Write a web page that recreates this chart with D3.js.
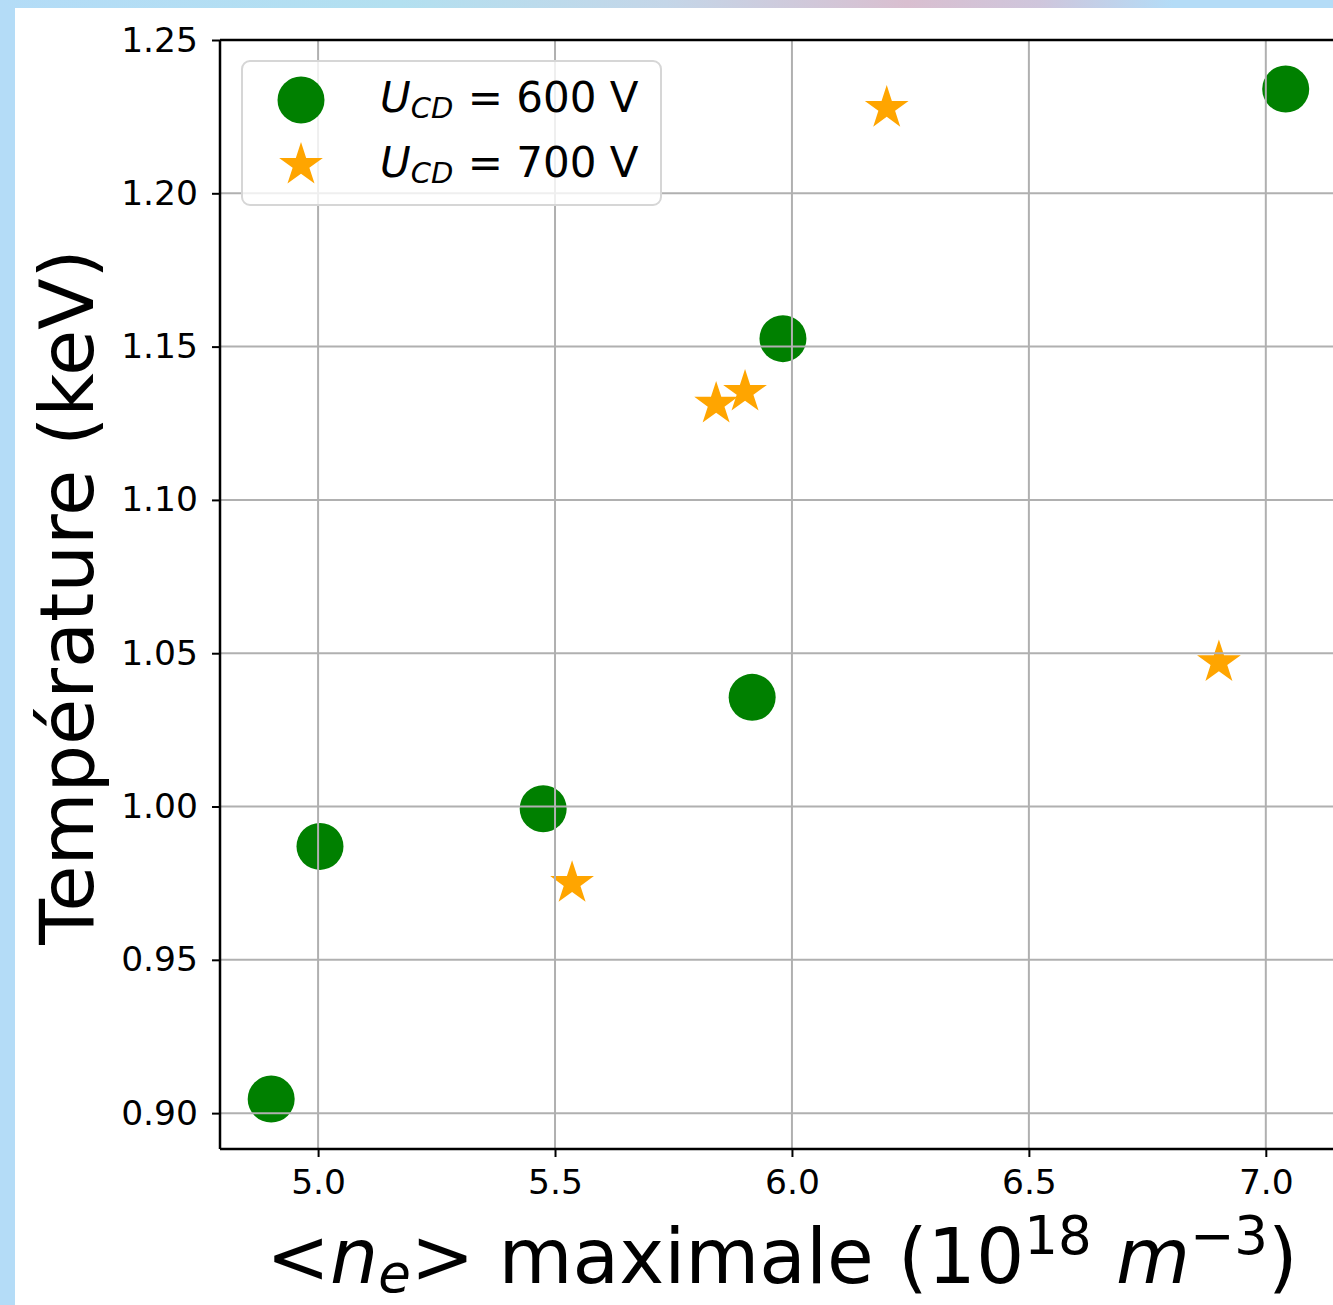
<!DOCTYPE html>
<html>
<head>
<meta charset="utf-8">
<script src="https://cdn.jsdelivr.net/npm/d3@7"></script>
<style>
  html, body { margin: 0; padding: 0; background: #b4dcf7; }
  svg { display: block; }
  text { font-family: "DejaVu Sans", sans-serif; fill: #000; }
</style>
</head>
<body>
<svg id="svg" width="1333" height="1305"></svg>
<script>
// values
let xTicks = [5.0, 5.5, 6.0, 6.5, 7.0];
let yTicks = [0.90, 0.95, 1.00, 1.05, 1.10, 1.15, 1.20, 1.25];

let ne600 = [4.901, 5.004, 5.475, 5.916, 5.981, 7.042];
let temp600 = [0.9046, 0.987, 0.9993, 1.0356, 1.1526, 1.234];

let ne700 = [5.536, 5.840, 5.901, 6.200, 6.901];
let temp700 = [0.975, 1.1313, 1.1352, 1.2278, 1.047];

let seriesLabels = ["600 V", "700 V"];

let svg = d3.select("svg");

// page background: blue frame with a soft gradient strip on top
let defs = svg.append("defs");
let grad = defs.append("linearGradient").attr("id", "topgrad");
[[0, "#b4dcf7"], [0.3, "#b3e0f0"], [0.5, "#c4d6e8"], [0.68, "#d9bfd0"], [0.78, "#cfc6dc"], [0.88, "#b4dcf7"], [1, "#b4dcf7"]]
  .forEach(s => grad.append("stop").attr("offset", s[0]).attr("stop-color", s[1]));
svg.append("rect").attr("width", 1333).attr("height", 1305).attr("fill", "#b4dcf7");
svg.append("rect").attr("width", 1333).attr("height", 8).attr("fill", "url(#topgrad)");
svg.append("rect").attr("x", 15).attr("y", 8).attr("width", 1318).attr("height", 1297).attr("fill", "#fff");

let margin = {left: 220, top: 40, right: 1344, bottom: 1149};

let x = d3.scaleLinear().domain([4.793, 7.165]).range([margin.left, margin.right]);
let y = d3.scaleLinear().domain([0.8883, 1.25]).range([margin.bottom, margin.top]);

defs.append("clipPath").attr("id", "plotclip")
  .append("rect")
  .attr("x", margin.left).attr("y", margin.top)
  .attr("width", margin.right - margin.left).attr("height", margin.bottom - margin.top);

// matplotlib style star ('*' marker), r = circumradius
function starPath(r) {
  let pts = [];
  for (let k = 0; k < 10; k++) {
    let rad = k % 2 == 0 ? r : r * 0.381966;
    let a = -Math.PI / 2 + k * Math.PI / 5;
    pts.push([rad * Math.cos(a), rad * Math.sin(a)]);
  }
  return "M" + pts.map(p => p[0].toFixed(2) + "," + p[1].toFixed(2)).join("L") + "Z";
}

let circleR = 23.5;
let starR = 23;
let green = "#008000";
let orange = "#ffa500";

let plot = svg.append("g").attr("clip-path", "url(#plotclip)");

plot.selectAll("circle.p600")
  .data(ne600.map((v, i) => ({ x: v, y: temp600[i] })))
  .enter().append("circle")
    .attr("cx", d => x(d.x))
    .attr("cy", d => y(d.y))
    .attr("r", circleR)
    .attr("fill", green);

plot.selectAll("path.p700")
  .data(ne700.map((v, i) => ({ x: v, y: temp700[i] })))
  .enter().append("path")
    .attr("transform", d => "translate(" + x(d.x) + "," + y(d.y) + ")")
    .attr("d", starPath(starR))
    .attr("fill", orange);

// grid sits above the markers, like in the original
let grid = svg.append("g").attr("clip-path", "url(#plotclip)")
  .attr("stroke", "#b0b0b0").attr("stroke-width", 2);
grid.selectAll("line.gx").data(xTicks).enter().append("line")
  .attr("x1", d => x(d)).attr("x2", d => x(d))
  .attr("y1", margin.top).attr("y2", margin.bottom);
grid.selectAll("line.gy").data(yTicks).enter().append("line")
  .attr("x1", margin.left).attr("x2", margin.right)
  .attr("y1", d => y(d)).attr("y2", d => y(d));

// axes
let xAxis = svg.append("g")
  .attr("transform", "translate(0," + margin.bottom + ")")
  .call(d3.axisBottom(x).tickValues(xTicks).tickFormat(d3.format(".1f")).tickSize(8).tickPadding(13).tickSizeOuter(0));
let yAxis = svg.append("g")
  .attr("transform", "translate(" + margin.left + ",0)")
  .call(d3.axisLeft(y).tickValues(yTicks).tickFormat(d3.format(".2f")).tickSize(8).tickPadding(14).tickSizeOuter(0));

[xAxis, yAxis].forEach(a => {
  a.select(".domain").remove();
  a.selectAll(".tick line").attr("stroke", "#000").attr("stroke-width", 2);
  a.selectAll(".tick text").attr("font-family", "DejaVu Sans").attr("font-size", 34.5).attr("fill", "#000");
});

// spines
let spines = svg.append("g").attr("stroke", "#000").attr("stroke-width", 2.5).attr("fill", "none");
spines.append("line").attr("x1", margin.left).attr("x2", margin.left).attr("y1", margin.top).attr("y2", margin.bottom);
spines.append("line").attr("x1", margin.left).attr("x2", margin.right).attr("y1", margin.bottom).attr("y2", margin.bottom);
spines.append("line").attr("x1", margin.left).attr("x2", margin.right).attr("y1", margin.top).attr("y2", margin.top);

// axis labels
let xl = svg.append("text")
  .attr("x", 782)
  .attr("y", 1283)
  .attr("text-anchor", "middle")
  .attr("font-size", 76);
xl.append("tspan").text("<");
xl.append("tspan").attr("font-style", "italic").text("n");
xl.append("tspan").attr("font-style", "italic").attr("font-size", 53).attr("dy", 9).text("e");
xl.append("tspan").attr("dy", -9).text("> maximale (10");
xl.append("tspan").attr("font-size", 53).attr("dy", -29).text("18");
xl.append("tspan").attr("dy", 29).text(" ");
xl.append("tspan").attr("font-style", "italic").text("m");
xl.append("tspan").attr("font-size", 53).attr("dy", -29).text("\u22123");
xl.append("tspan").attr("dy", 29).text(")");

svg.append("text")
  .attr("transform", "translate(93," + 597 + ") rotate(-90)")
  .attr("text-anchor", "middle")
  .attr("font-size", 75)
  .text("Température (keV)");

// legend
let legend = svg.append("g");
legend.append("rect")
  .attr("x", 242).attr("y", 61).attr("width", 419).attr("height", 144)
  .attr("rx", 8).attr("ry", 8)
  .attr("fill", "#fff").attr("fill-opacity", 0.8)
  .attr("stroke", "#d6d6d6").attr("stroke-width", 2);

let rows = [100, 165];
legend.append("circle").attr("cx", 301).attr("cy", rows[0]).attr("r", circleR).attr("fill", green);
legend.append("path").attr("transform", "translate(301," + rows[1] + ")").attr("d", starPath(starR)).attr("fill", orange);

seriesLabels.forEach((lab, i) => {
  let t = legend.append("text")
    .attr("x", 380)
    .attr("y", rows[i] + 12)
    .attr("font-size", 42);
  t.append("tspan").attr("font-style", "italic").text("U");
  t.append("tspan").attr("font-style", "italic").attr("font-size", 29).attr("dy", 6).text("CD");
  t.append("tspan").attr("dy", -6).attr("dx", 1).text(" = ");
  t.append("tspan").text(lab);
});
</script>
</body>
</html>
